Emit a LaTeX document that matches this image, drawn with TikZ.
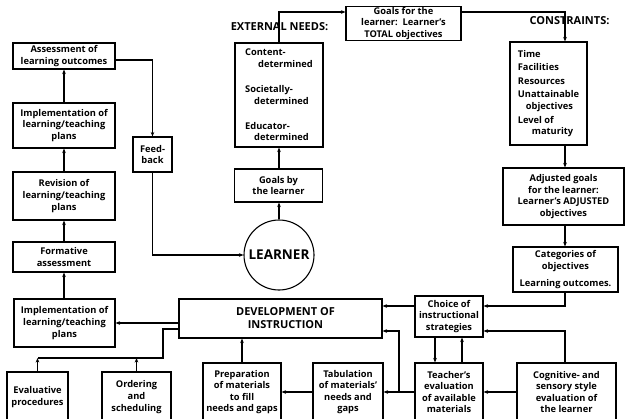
\documentclass[tikz,border=0pt]{standalone}
\usepackage{fontspec}
\setmainfont{Open Sans}
\usetikzlibrary{arrows.meta}
\begin{document}
\begin{tikzpicture}[x=1pt,y=-1pt,
  box/.style={draw, line width=1.1pt, align=center, inner sep=1pt,
    font=\fontsize{9.3}{11.6}\selectfont\bfseries},
  lbl/.style={inner sep=0pt, font=\fontsize{11}{12}\selectfont\bfseries},
  arr/.style={-{Stealth[length=4.5pt,width=3.6pt]}, line width=1.1pt},
  ln/.style={line width=1.1pt}]
\useasboundingbox (0,0) rectangle (626,418);
% left column
\node[box, minimum width=102pt, minimum height=26pt] (assess) at (64,56) {Assessment of\\learning outcomes};
\node[box, minimum width=102pt, minimum height=45pt] (impl1) at (64,125.5) {Implementation of\\learning/teaching\\plans};
\node[box, minimum width=102pt, minimum height=48pt] (revis) at (64,196) {Revision of\\learning/teaching\\plans};
\node[box, minimum width=102pt, minimum height=30pt] (form) at (64,257) {Formative\\assessment};
\node[box, minimum width=101pt, minimum height=48pt] (impl2) at (64.5,323) {Implementation of\\learning/teaching\\plans};
\node[box, minimum width=61pt, minimum height=50pt] (evalp) at (37.5,397) {Evaluative\\procedures};
\node[box, minimum width=69pt, minimum height=50pt] (order) at (136.5,397) {Ordering\\and\\scheduling};
\node[box, minimum width=39pt, minimum height=35pt] (feed) at (152.5,154.5) {Feed-\\back};
% centre
\node[draw, circle, line width=1.1pt, minimum size=70pt, inner sep=0pt,
  font=\fontsize{13.5}{15}\selectfont\bfseries] (learner) at (279,255) {LEARNER};
\node[box, minimum width=88pt, minimum height=104pt, align=left] (ext) at (279,95)
  {Content-\\\hspace*{13pt}determined\\[13.5pt]Societally-\\\hspace*{9pt}determined\\[13.5pt]Educator-\\\hspace*{9pt}determined};
\node[box, minimum width=88pt, minimum height=33pt] (goalsl) at (278.5,185.5) {Goals by\\the learner};
\node[box, minimum width=115pt, minimum height=33pt] (goalsT) at (403.5,23.5) {Goals for the\\learner:\ \ Learner's\\TOTAL objectives};
% right column
\node[box, minimum width=77pt, minimum height=103pt, align=left] (cons) at (548.5,93.5)
  {Time\\[2pt]Facilities\\[2pt]Resources\\[2pt]Unattainable\\\hspace*{8pt}objectives\\[2pt]Level of\\\hspace*{14pt}maturity};
\node[box, minimum width=121pt, minimum height=57pt] (adj) at (563.5,196.5) {Adjusted goals\\for the learner:\\Learner's ADJUSTED\\objectives};
\node[box, minimum width=105pt, minimum height=45pt] (cat) at (565.5,269.5) {Categories of\\objectives\\[5pt]Learning outcomes.};
\node[box, minimum width=68pt, minimum height=41pt] (choice) at (449,316.5) {Choice of\\instructional\\strategies};
\node[box, minimum width=203pt, minimum height=39pt,
  font=\fontsize{11}{13}\selectfont\bfseries] (dev) at (280.5,318.5) {\hspace*{10pt}DEVELOPMENT OF\\\hspace*{10pt}INSTRUCTION};
% bottom row
\node[box, minimum width=78pt, minimum height=58pt] (prep) at (242,392) {Preparation\\of materials\\to fill\\needs and gaps};
\node[box, minimum width=70pt, minimum height=58pt] (tab) at (348,392) {Tabulation\\of materials'\\needs and\\gaps};
\node[box, minimum width=68pt, minimum height=58pt] (teach) at (449,392) {Teacher's\\evaluation\\of available\\materials};
\node[box, minimum width=99pt, minimum height=58pt] (cog) at (566.5,392) {Cognitive- and\\sensory style\\evaluation of\\the learner};
% labels
\node[lbl] (extl) at (279.5,27) {EXTERNAL NEEDS:};
\node[lbl] (consl) at (569.5,21) {CONSTRAINTS:};
% helper coordinates
\coordinate (top) at (0,12);
\coordinate (cx) at (565,0);
\coordinate (y306) at (0,306);
\coordinate (y331) at (0,331);
\coordinate (y392) at (0,392);
\coordinate (y323) at (0,323);
\coordinate (y329) at (0,329);
\coordinate (xa) at (435,0);
\coordinate (xb) at (462,0);
\coordinate (j) at (399,392);
\coordinate (b1) at (163,358);
% connectors left column
\draw[arr] (impl1) -- (assess);
\draw[arr] (revis) -- (impl1);
\draw[arr] (form) -- (revis);
\draw[arr] (impl2.north -| form) -- (form);
\draw[arr] ([yshift=-4pt]assess.east) -| (feed.north);
\draw[arr] (feed.south) |- (learner.west);
% centre
\draw[arr] (learner.north) -- (learner.north |- goalsl.south);
\draw[arr] (goalsl.north -| learner.north) -- (learner.north |- ext.south);
\draw[arr] (ext.north) |- (goalsT.west |- top);
\draw[arr] (goalsT.east |- top) -| (cx |- cons.north);
\draw[arr] (cx |- cons.south) -- (cx |- adj.north);
\draw[arr] (cx |- adj.south) -- (cx |- cat.north);
\draw[arr] (cx |- cat.south) |- (choice.east |- y306);
\draw[arr] (choice.west |- y306) -- (dev.east |- y306);
\draw[arr] (cx |- cog.north) |- (choice.east |- y331);
\draw[arr] (xa |- choice.south) -- (xa |- teach.north);
\draw[arr] (xb |- teach.north) -- (xb |- choice.south);
\draw[arr] (cog.west |- y392) -- (teach.east |- y392);
\draw[arr] (teach.west |- y392) -- (tab.east |- y392);
\draw[arr] (j) |- (dev.east |- y331);
\draw[arr] (tab.west |- y392) -- (prep.east |- y392);
\draw[arr] (prep.north) -- (prep.north |- dev.south);
\draw[arr] (dev.west |- y323) -- (impl2.east |- y323);
\draw[ln] (dev.west |- y329) -| (b1) -- (evalp.north |- b1);
\draw[arr] (evalp.north) -- (evalp.north |- b1);
\draw[arr] (order.north) -- (order.north |- b1);
\end{tikzpicture}
\end{document}
